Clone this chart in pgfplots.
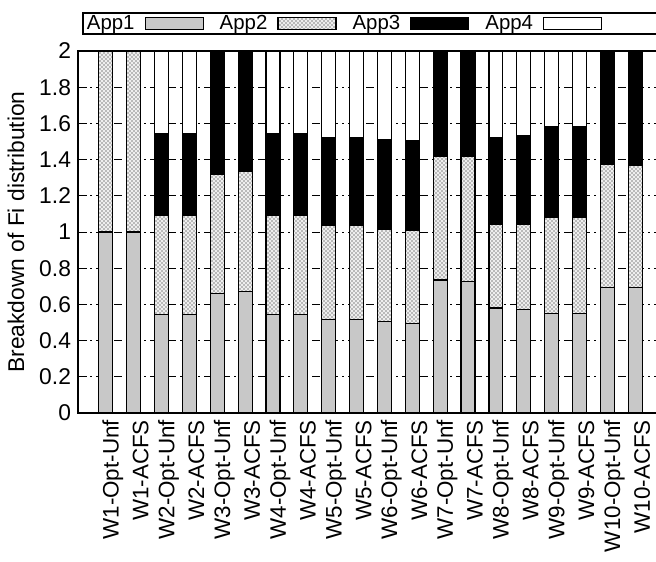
\documentclass[border=0pt]{standalone}
\usepackage{fontspec}
\setmainfont{Liberation Sans}
\usepackage{pgfplots}
\pgfplotsset{compat=1.18}
\usepackage{pgfplotstable}
\usetikzlibrary{patterns}

\definecolor{appgray}{RGB}{200,200,200}

\pgfdeclarepatternformonly{finecross}{\pgfqpoint{-0.5pt}{-0.5pt}}{\pgfqpoint{2.5pt}{2.5pt}}{\pgfqpoint{2pt}{2pt}}{%
  \pgfsetlinewidth{0.4pt}%
  \pgfpathmoveto{\pgfqpoint{-0.2pt}{-0.2pt}}\pgfpathlineto{\pgfqpoint{2.2pt}{2.2pt}}%
  \pgfpathmoveto{\pgfqpoint{-0.2pt}{2.2pt}}\pgfpathlineto{\pgfqpoint{2.2pt}{-0.2pt}}%
  \pgfusepath{stroke}}

\pgfplotstableread{
App1  App2  App3  App4
1.000 1.000 0.000 0.000
1.000 1.000 0.000 0.000
0.545 0.545 0.455 0.455
0.545 0.545 0.455 0.455
0.660 0.660 0.670 0.010
0.670 0.665 0.665 0.000
0.545 0.545 0.455 0.455
0.545 0.545 0.455 0.455
0.515 0.520 0.485 0.480
0.515 0.520 0.485 0.480
0.505 0.510 0.494 0.491
0.495 0.512 0.500 0.493
0.735 0.685 0.580 0.000
0.728 0.690 0.582 0.000
0.580 0.463 0.477 0.480
0.570 0.473 0.487 0.470
0.550 0.530 0.500 0.420
0.550 0.530 0.500 0.420
0.695 0.680 0.625 0.000
0.695 0.672 0.633 0.000
}\data

\pgfplotsset{legbox/.style={legend image code/.code={\draw[##1] (0pt,-3pt) rectangle (29pt,3pt);}}}

\begin{document}
\begin{tikzpicture}
\useasboundingbox (-39pt,25.5pt) rectangle (289pt,-255pt);
\clip (-39pt,25.5pt) rectangle (289pt,-255pt);
\begin{axis}[
  at={(0,0)}, anchor=north west,
  scale only axis, width=292.5pt, height=181pt,
  ybar stacked, bar width=0.5,
  every axis plot post/.append style={legbox},
  xmin=-1, xmax=20, ymin=0, ymax=2,
  xtick={0,...,19},
  xticklabels={W1-Opt-Unf,W1-ACFS,W2-Opt-Unf,W2-ACFS,W3-Opt-Unf,W3-ACFS,W4-Opt-Unf,W4-ACFS,W5-Opt-Unf,W5-ACFS,W6-Opt-Unf,W6-ACFS,W7-Opt-Unf,W7-ACFS,W8-Opt-Unf,W8-ACFS,W9-Opt-Unf,W9-ACFS,W10-Opt-Unf,W10-ACFS},
  xticklabel style={rotate=90, anchor=east, font=\fontsize{11.2}{13}\selectfont, yshift=-3.5pt},
  yticklabel style={font=\fontsize{11.4}{13}\selectfont},
  major x tick style={draw=none},
  ytick={0,0.2,0.4,0.6,0.8,1,1.2,1.4,1.6,1.8,2},
  /pgf/number format/assume math mode=true,
  ymajorgrids,
  major grid style={black, line width=0.4pt, dash pattern=on 4pt off 2pt on 1pt off 2pt},
  axis line style={line width=0.9pt},
  major tick style={black, line width=0.5pt},
  ylabel={Breakdown of Fi distribution},
  every axis y label/.style={at={(axis description cs:-0.106,0.5)}, rotate=90, anchor=center, font=\fontsize{11.4}{13}\selectfont},
  legend columns=5, legend plot pos=right,
  legend style={at={(0,1)}, anchor=north west, xshift=2pt, yshift=19.5pt,
    draw=black, line width=0.9pt, font=\fontsize{10.2}{11}\selectfont,
    inner ysep=0.5pt, inner xsep=1.5pt,
    nodes={inner sep=0.5pt},
    /tikz/every even column/.append style={column sep=7.5pt},
    /tikz/every odd column/.append style={column sep=4.5pt}},
]
\addplot[draw=black, line width=0.6pt, fill=appgray] table[x expr=\coordindex, y=App1] {\data};
\addlegendentry{App1}
\addplot[draw=black, line width=0.6pt, fill=white, postaction={pattern=finecross, pattern color=gray!55}] table[x expr=\coordindex, y=App2] {\data};
\addlegendentry{App2}
\addplot[draw=black, line width=0.6pt, fill=black] table[x expr=\coordindex, y=App3] {\data};
\addlegendentry{App3}
\addplot[draw=black, line width=0.6pt, fill=white] table[x expr=\coordindex, y=App4] {\data};
\addlegendentry{App4}
\addlegendimage{draw=white, fill=white}
\addlegendentry{\hspace{40pt}}
\end{axis}
\end{tikzpicture}
\end{document}
